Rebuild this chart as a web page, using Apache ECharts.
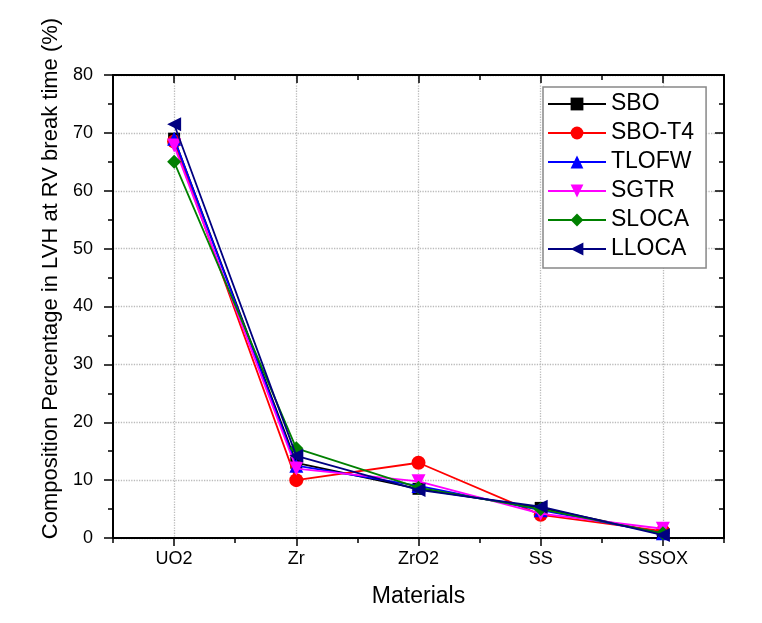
<!DOCTYPE html>
<html>
<head>
<meta charset="utf-8">
<script src="https://cdn.jsdelivr.net/npm/echarts@6/dist/echarts.min.js"></script>
<style>html,body{margin:0;padding:0;background:#fff}#c{width:762px;height:623px}</style>
</head>
<body>
<div id="c"></div>
<script>
const categories = ['UO2', 'Zr', 'ZrO2', 'SS', 'SSOX'];
const seriesNames = ['SBO', 'SBO-T4', 'TLOFW', 'SGTR', 'SLOCA', 'LLOCA'];
const SBO    = [69.0, 13.0, 8.5, 5.2, 0.8];
const SBO_T4 = [68.5, 10.0, 13.0, 4.0, 1.2];
const TLOFW  = [69.0, 12.5, 9.0, 4.8, 0.8];
const SGTR   = [67.8, 12.0, 9.8, 4.2, 1.6];
const SLOCA  = [65.0, 15.5, 8.7, 5.0, 0.8];
const LLOCA  = [71.5, 14.2, 8.3, 5.4, 0.5];
const yTicks = [0, 10, 20, 30, 40, 50, 60, 70, 80];

const colors = ['#000000', '#ff0000', '#0000ff', '#ff00ff', '#008000', '#000080'];
const symbols = ['rect', 'circle', 'triangle', 'triangle', 'diamond', 'triangle'];
const rotations = [0, 0, 0, 180, 0, 90];
const sizes = [12, 14, 14, 14, 14, 14];
const values = [SBO, SBO_T4, TLOFW, SGTR, SLOCA, LLOCA];

const FONT = 'Liberation Sans, Arial, sans-serif';
const chart = echarts.init(document.getElementById('c'));

const axisLineStyle = { color: '#000', width: 2 };
const tickStyle = { color: '#000', width: 1.5 };

const series = seriesNames.map((n, i) => ({
  name: n,
  type: 'line',
  xAxisIndex: 0,
  yAxisIndex: 0,
  data: values[i],
  symbol: symbols[i],
  symbolSize: sizes[i],
  symbolRotate: rotations[i],
  showAllSymbol: true,
  lineStyle: { color: colors[i], width: 1.8 },
  itemStyle: { color: colors[i] },
  animation: false,
  z: 3 + i
}));

chart.setOption({
  backgroundColor: '#fff',
  animation: false,
  grid: { left: 113, right: 38, top: 75, bottom: 85, containLabel: false },
  legend: {
    orient: 'vertical',
    left: 543,
    top: 87,
    padding: [5, 12, 7, 4],
    itemWidth: 58,
    itemHeight: 16,
    itemGap: 5,
    borderColor: '#888',
    borderWidth: 1.5,
    backgroundColor: '#fff',
    data: seriesNames,
    textStyle: { fontFamily: FONT, fontSize: 23, color: '#000', lineHeight: 24 }
  },
  xAxis: [
    {
      type: 'category', data: categories, boundaryGap: true, position: 'bottom',
      name: 'Materials', nameLocation: 'middle', nameGap: 47,
      nameTextStyle: { fontFamily: FONT, fontSize: 23, color: '#000' },
      axisLine: { show: true, lineStyle: axisLineStyle },
      axisTick: { show: true, alignWithLabel: true, inside: false, length: 8, lineStyle: tickStyle },
      axisLabel: { fontFamily: FONT, fontSize: 18, color: '#000', margin: 12 },
      splitLine: { show: true, alignWithLabel: true, lineStyle: { color: '#bbbbbb', type: 'dotted', width: 1.3 } }
    },
    {
      type: 'category', data: categories, boundaryGap: true, position: 'bottom',
      axisLine: { show: false },
      axisTick: { show: true, alignWithLabel: false, inside: false, length: 5, lineStyle: tickStyle },
      axisLabel: { show: false },
      splitLine: { show: false }
    },
    {
      type: 'category', data: categories, boundaryGap: true, position: 'top',
      axisLine: { show: true, lineStyle: axisLineStyle },
      axisTick: { show: true, alignWithLabel: true, inside: true, length: 8, lineStyle: tickStyle },
      axisLabel: { show: false },
      splitLine: { show: false }
    },
    {
      type: 'category', data: categories, boundaryGap: true, position: 'top',
      axisLine: { show: false },
      axisTick: { show: true, alignWithLabel: false, inside: true, length: 5, lineStyle: tickStyle },
      axisLabel: { show: false },
      splitLine: { show: false }
    }
  ],
  yAxis: [
    {
      type: 'value', min: yTicks[0], max: yTicks[yTicks.length - 1], interval: 10, position: 'left',
      name: 'Composition Percentage in LVH at RV break time (%)',
      nameLocation: 'middle', nameGap: 47, nameRotate: 90,
      nameTextStyle: { fontFamily: FONT, fontSize: 22, color: '#000', padding: [0, 0, 0, 56] },
      axisLine: { show: true, lineStyle: axisLineStyle },
      axisTick: { show: true, inside: false, length: 9, lineStyle: tickStyle },
      minorTick: { show: true, splitNumber: 2, length: 5, lineStyle: tickStyle },
      axisLabel: { fontFamily: FONT, fontSize: 18, color: '#000', margin: 20 },
      splitLine: { show: true, lineStyle: { color: '#bbbbbb', type: 'dotted', width: 1.3 } }
    },
    {
      type: 'value', min: yTicks[0], max: yTicks[yTicks.length - 1], interval: 10, position: 'right',
      axisLine: { show: true, lineStyle: axisLineStyle },
      axisTick: { show: true, inside: true, length: 9, lineStyle: tickStyle },
      minorTick: { show: true, splitNumber: 2, length: 5, lineStyle: tickStyle },
      axisLabel: { show: false },
      splitLine: { show: false }
    }
  ],
  series: series
});
</script>
</body>
</html>
